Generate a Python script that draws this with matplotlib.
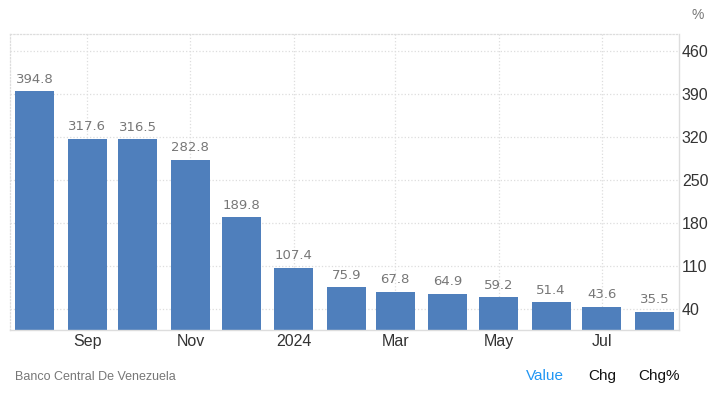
import pandas as pd
import matplotlib.pyplot as plt
import matplotlib.dates as mdates

plt.rcParams['font.family'] = ['Liberation Sans', 'DejaVu Sans']

# data
months = pd.date_range('2023-08-01', '2024-08-01', freq='MS')
values = [394.8, 317.6, 316.5, 282.8, 189.8, 107.4, 75.9, 67.8, 64.9, 59.2, 51.4, 43.6, 35.5]
y_ticks = [40, 110, 180, 250, 320, 390, 460]
x_ticks = pd.to_datetime(['2023-09-01', '2023-11-01', '2024-01-01', '2024-03-01', '2024-05-01', '2024-07-01'])
x_labels = ['Sep', 'Nov', '2024', 'Mar', 'May', 'Jul']

bar_color = '#4f7fbc'

fig = plt.figure(figsize=(7.19, 3.98), dpi=100)
ax = fig.add_axes([10 / 719, 1 - 330 / 398, 669 / 719, 296 / 398])

ax.bar(months, values, width=23, color=bar_color, zorder=2)

# value labels
for d, v in zip(months, values):
    ax.annotate(f'{v:.1f}', (d, v), xytext=(0, 4), textcoords='offset points',
                ha='center', va='bottom', fontsize=9.5, color='#777777',
                family='DejaVu Sans', zorder=3)

ax.set_xlim(months[0] - pd.Timedelta(days=14.5), months[-1] + pd.Timedelta(days=14.5))
ax.set_ylim(6, 488)

ax.set_xticks(x_ticks)
ax.set_xticklabels(x_labels)
ax.set_yticks(y_ticks)
ax.yaxis.tick_right()
ax.tick_params(axis='both', length=0, labelsize=11.5, labelcolor='#333333')
ax.tick_params(axis='y', pad=2)
ax.tick_params(axis='x', pad=3)

ax.grid(True, color='#dddddd', linestyle=':', linewidth=0.9, zorder=0)

for side in ['left', 'top']:
    ax.spines[side].set_color('#dddddd')
    ax.spines[side].set_linestyle(':')
    ax.spines[side].set_linewidth(0.9)
for side in ['right', 'bottom']:
    ax.spines[side].set_color('#dddddd')
    ax.spines[side].set_linewidth(1.0)

# unit label and footer
fig.text(698 / 719, 1 - 15 / 398, '%', fontsize=10, color='#777777', ha='center', va='center')
fig.text(15 / 719, 1 - 377 / 398, 'Banco Central De Venezuela', fontsize=9, color='#777777',
         ha='left', va='center')
fig.text(526 / 719, 1 - 376 / 398, 'Value', fontsize=11, color='#2196f3', ha='left', va='center')
fig.text(588 / 719, 1 - 376 / 398, 'Chg', fontsize=11, color='#111111', ha='left', va='center')
fig.text(638 / 719, 1 - 376 / 398, 'Chg%', fontsize=11, color='#111111', ha='left', va='center')

fig.savefig('out.png', dpi=100)
